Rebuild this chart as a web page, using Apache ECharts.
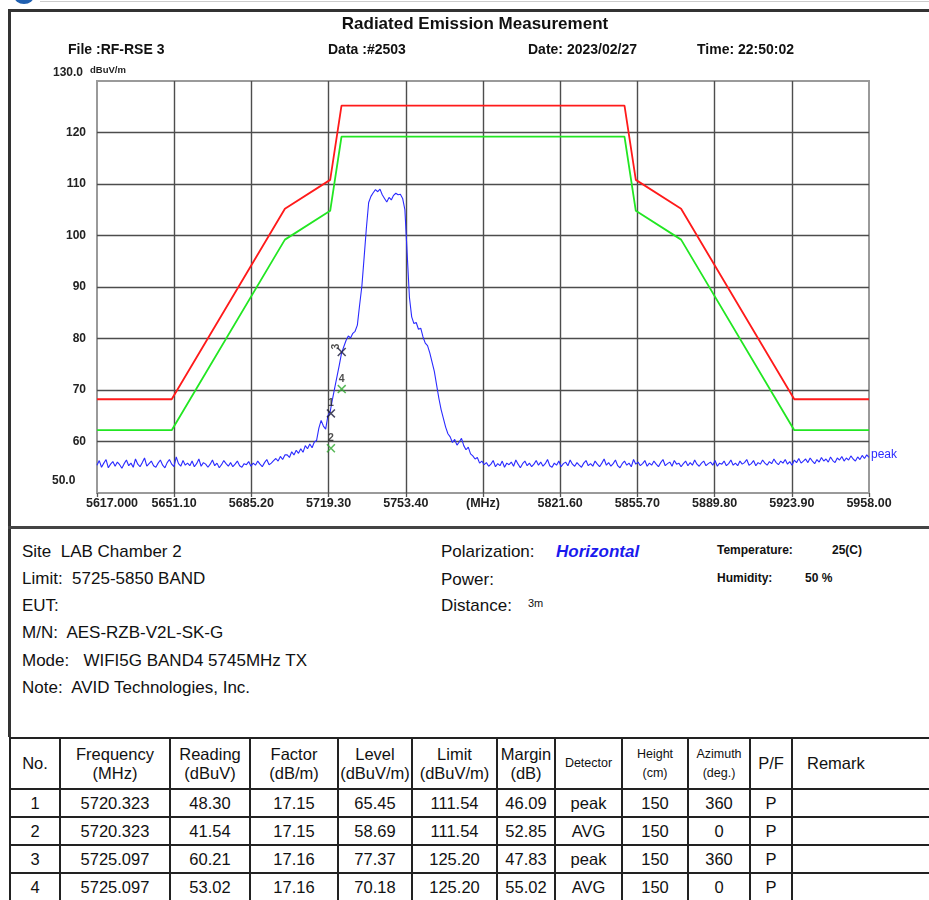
<!DOCTYPE html>
<html>
<head>
<meta charset="utf-8">
<script src="https://cdn.jsdelivr.net/npm/echarts@6/dist/echarts.min.js"></script>
<style>
  html,body{margin:0;padding:0;background:#fff;width:929px;height:900px;overflow:hidden;}
  body{position:relative;font-family:"Liberation Sans",Arial,sans-serif;color:#111;}
  .abs{position:absolute;white-space:pre;}
  .hdr{font-family:"Liberation Sans Narrow","Arial Narrow","Liberation Sans",sans-serif;font-weight:bold;font-size:14px;line-height:16px;}
  .info{font-size:17px;line-height:20px;}
  .small{font-family:"Liberation Sans Narrow","Arial Narrow","Liberation Sans",sans-serif;font-size:12px;line-height:14px;font-weight:bold;}
  #tbl{position:absolute;left:9px;top:737px;width:990px;border-collapse:collapse;table-layout:fixed;font-size:16.5px;}
  #tbl td{border:2px solid #222;text-align:center;padding:0;height:26px;line-height:18px;}
  #tbl tr.h td{height:49px;line-height:19px;}
  #tbl td.s{font-size:12.5px;line-height:16px;}
</style>
</head>
<body>
<div class="abs" style="left:14px;top:-12px;width:20px;height:16px;border-radius:50%;background:#1f5fb0;"></div>
<div class="abs" style="left:40px;top:1px;width:889px;height:1px;background:#ccc;"></div>
<div class="abs" style="left:8px;top:9px;width:921px;height:3px;background:#333;"></div>
<div class="abs" style="left:8px;top:9px;width:3px;height:728px;background:#333;"></div>
<div class="abs" style="left:8px;top:526px;width:921px;height:3px;background:#444;"></div>

<div id="chart" style="position:absolute;left:0;top:0;width:929px;height:520px;"></div>

<div class="abs" style="left:0;width:950px;top:13px;text-align:center;font-weight:bold;font-size:17px;line-height:22px;">Radiated Emission Measurement</div>
<div class="abs hdr" style="left:68px;top:41px;">File :RF-RSE 3</div>
<div class="abs hdr" style="left:328px;top:41px;">Data :#2503</div>
<div class="abs hdr" style="left:528px;top:41px;">Date: 2023/02/27</div>
<div class="abs hdr" style="left:697px;top:41px;">Time: 22:50:02</div>

<div class="abs info" style="left:22px;top:542px;">Site  LAB Chamber 2</div>
<div class="abs info" style="left:22px;top:569px;">Limit:  5725-5850 BAND</div>
<div class="abs info" style="left:22px;top:596px;">EUT:</div>
<div class="abs info" style="left:22px;top:623px;">M/N:  AES-RZB-V2L-SK-G</div>
<div class="abs info" style="left:22px;top:651px;">Mode:   WIFI5G BAND4 5745MHz TX</div>
<div class="abs info" style="left:22px;top:678px;">Note:  AVID Technologies, Inc.</div>
<div class="abs info" style="left:441px;top:542px;">Polarization:</div>
<div class="abs info" style="left:556px;top:542px;color:#1a1aee;font-weight:bold;font-style:italic;">Horizontal</div>
<div class="abs info" style="left:441px;top:570px;">Power:</div>
<div class="abs info" style="left:441px;top:596px;">Distance:</div>
<div class="abs" style="left:528px;top:597px;font-size:11px;line-height:12px;">3m</div>
<div class="abs small" style="left:717px;top:543px;">Temperature:</div>
<div class="abs small" style="left:832px;top:543px;">25(C)</div>
<div class="abs small" style="left:717px;top:571px;">Humidity:</div>
<div class="abs small" style="left:805px;top:571px;">50 %</div>

<table id="tbl"></table>

<script>
// ---------- data ----------
const freqMin = 5617.0;
const freqMax = 5958.0;
const levelMin = 50;
const levelMax = 130;
const levelStep = 10;
const xTickCount = 10;

// limit lines (MHz, dBuV/m)
const limitFreq = [5617, 5650, 5700, 5720, 5725, 5850, 5855, 5875, 5925, 5958];
const peakLimit = [68.2, 68.2, 105.2, 110.8, 125.2, 125.2, 110.8, 105.2, 68.2, 68.2];
const avgLimit  = [62.2, 62.2, 99.2, 104.8, 119.2, 119.2, 104.8, 99.2, 62.2, 62.2];

// measured trace, one reading per MHz starting at 5617 MHz
const traceStart = 5617;
const traceStepMHz = 1;
const traceLevel = [
  55.4,56.3,55.0,55.8,56.5,54.9,55.6,56.1,55.2,56.0,
  55.5,54.8,55.7,56.4,55.3,55.8,55.0,56.6,55.6,55.1,
  55.9,56.8,55.2,55.7,56.2,55.3,55.0,55.8,56.4,55.4,
  54.9,55.9,56.5,55.6,55.1,57.0,55.7,55.2,56.3,55.4,
  55.8,55.3,56.2,55.1,55.7,56.6,55.2,55.9,55.6,55.0,
  55.6,56.4,55.3,55.8,54.9,55.5,56.3,55.7,55.2,55.9,
  55.1,55.6,56.2,55.3,55.0,55.7,55.5,56.1,55.2,55.8,
  55.4,56.2,55.6,55.1,55.9,56.5,55.5,55.8,56.3,56.7,
  56.2,57.1,56.5,57.4,
  57.4,56.9,58.0,57.4,58.3,57.7,58.6,57.9,59.2,58.6,
  59.5,58.8,59.9,60.2,62.6,64.1,63.0,62.4,65.0,65.8,
  68.2,70.4,72.6,74.8,77.1,78.4,79.6,80.5,80.1,81.0,
  81.4,82.6,86.5,90.2,95.8,101.5,106.4,107.6,108.3,108.9,
  108.5,109.0,107.9,107.2,106.5,107.4,106.9,107.8,108.2,107.9,
  108.0,107.2,105.0,96.5,88.0,84.2,82.9,83.1,81.8,82.0,
  80.3,79.1,78.6,77.2,75.4,73.6,71.0,68.4,66.2,64.5,
  62.8,61.5,60.9,59.8,60.4,59.3,59.9,60.6,59.2,58.4,
  58.9,57.6,57.2,56.6,56.9,55.8,56.2,55.5,
  55.9,55.2,55.6,56.3,55.1,55.7,55.3,56.2,55.0,55.8,
  55.5,56.0,55.2,56.4,55.6,54.9,55.7,56.2,55.3,55.8,
  55.1,55.6,56.3,55.4,56.0,55.2,55.7,56.5,55.3,55.0,
  55.8,55.4,56.2,55.1,55.7,56.0,55.3,56.4,55.6,55.2,
  55.9,55.4,55.0,55.8,56.3,55.3,55.7,55.2,56.2,55.6,
  55.1,55.8,56.6,55.4,55.9,55.2,55.7,56.4,55.3,54.9,
  55.7,56.2,55.4,55.8,55.1,56.5,55.6,56.0,55.3,55.7,
  56.3,55.2,55.8,55.4,56.2,55.6,55.1,55.9,56.5,55.3,
  55.7,56.0,55.2,56.3,55.6,55.8,55.1,55.7,56.2,55.3,
  55.9,55.4,56.4,55.6,55.2,55.8,56.2,55.3,55.7,56.0,
  55.4,56.3,55.2,55.8,55.6,56.2,55.3,55.7,56.4,55.4,
  55.8,55.3,56.2,55.6,55.9,56.5,55.4,55.7,56.3,55.3,
  55.9,55.6,56.4,55.8,55.4,56.1,55.7,56.6,55.9,55.5,
  56.2,55.8,56.5,55.6,56.1,55.4,56.4,55.9,56.7,55.8,
  56.2,56.6,55.9,56.8,56.2,55.7,56.5,56.0,56.9,56.2,
  56.6,56.0,57.0,56.3,55.9,56.8,56.4,57.1,56.2,56.8,
  56.4,57.2,56.6,56.2,57.0,56.5,57.3,56.7,57.4,56.9
];

// marked points / table rows
const markerNo       = [1, 2, 3, 4];
const markerFreq     = [5720.323, 5720.323, 5725.097, 5725.097];
const markerReading  = ['48.30', '41.54', '60.21', '53.02'];
const markerFactor   = ['17.15', '17.15', '17.16', '17.16'];
const markerLevel    = [65.45, 58.69, 77.37, 70.18];
const markerLimit    = ['111.54', '111.54', '125.20', '125.20'];
const markerMargin   = ['46.09', '52.85', '47.83', '55.02'];
const markerDetector = ['peak', 'AVG', 'peak', 'AVG'];
const markerHeight   = ['150', '150', '150', '150'];
const markerAzimuth  = ['360', '0', '360', '0'];
const markerPF       = ['P', 'P', 'P', 'P'];

// ---------- chart ----------
const SCALE = 10; // x axis in tenths of MHz from freqMin
const toX = f => Math.round((f - freqMin) * SCALE * 1000) / 1000;
const xMax = toX(freqMax);
const xInterval = xMax / xTickCount;

const peakData = limitFreq.map((f, i) => [toX(f), peakLimit[i]]);
const avgData = limitFreq.map((f, i) => [toX(f), avgLimit[i]]);
const traceData = traceLevel.map((v, i) => [toX(traceStart + i * traceStepMHz), v]);
const markerData = markerNo.map((n, i) => ({
  value: [toX(markerFreq[i]), markerLevel[i]],
  itemStyle: { color: markerDetector[i] === 'AVG' ? '#2ea82e' : '#1a1a3a' },
  label: {
    show: true, formatter: String(n), position: 'top', distance: n === 3 ? 1 : 0,
    rotate: n === 3 ? 90 : 0, fontSize: 10.5, fontWeight: 'bold', color: '#222',
    fontFamily: 'Liberation Sans'
  }
}));

const narrow = '"Liberation Sans Narrow","Arial Narrow","Liberation Sans",sans-serif';
const chart = echarts.init(document.getElementById('chart'), null, { renderer: 'canvas' });
chart.setOption({
  animation: false,
  backgroundColor: 'transparent',
  grid: { left: 97, right: 60, top: 81, bottom: 27, show: true, borderColor: '#9a9a9a', borderWidth: 2 },
  xAxis: {
    type: 'value', min: 0, max: xMax, interval: xInterval,
    axisLine: { show: false },
    axisTick: { show: true, length: 4, lineStyle: { color: '#555', width: 1.3 } },
    splitLine: { show: true, showMinLine: false, showMaxLine: false, lineStyle: { color: '#4d4d4d', width: 1.4 } },
    axisLabel: {
      margin: 4, fontSize: 12.5, fontWeight: 'bold', color: '#222', fontFamily: narrow,
      formatter: v => {
        if (Math.abs(v) < 1e-6) return '{a|' + freqMin.toFixed(3) + '}';
        if (Math.abs(v - xMax / 2) < 1e-6) return '(MHz)';
        return (freqMin + v / SCALE).toFixed(2);
      },
      rich: { a: { fontSize: 12.5, fontWeight: 'bold', color: '#222', fontFamily: narrow, padding: [0, 0, 0, 30] } }
    }
  },
  yAxis: {
    type: 'value', min: levelMin, max: levelMax, interval: levelStep,
    axisLine: { show: false }, axisTick: { show: false },
    splitLine: { show: true, showMinLine: false, showMaxLine: false, lineStyle: { color: '#4d4d4d', width: 1.4 } },
    axisLabel: {
      margin: 11, fontSize: 12, fontWeight: 'bold', color: '#222', fontFamily: narrow,
      formatter: v => (v === levelMin || v === levelMax) ? '' : String(v)
    }
  },
  graphic: [
    { type: 'text', left: 53, top: 67, style: { text: levelMax.toFixed(1), font: 'bold 12px ' + narrow, fill: '#222' } },
    { type: 'text', left: 90, top: 65, style: { text: 'dBuV/m', font: 'bold 9.5px ' + narrow, fill: '#222' } },
    { type: 'text', left: 52, top: 475, style: { text: levelMin.toFixed(1), font: 'bold 12px ' + narrow, fill: '#222' } }
  ],
  series: [
    { name: 'Peak limit', type: 'line', data: peakData, showSymbol: false, silent: true, z: 3,
      lineStyle: { color: '#ff1a1a', width: 1.8 } },
    { name: 'AVG limit', type: 'line', data: avgData, showSymbol: false, silent: true, z: 3,
      lineStyle: { color: '#22e622', width: 1.8 } },
    { name: 'peak', type: 'line', data: traceData, showSymbol: false, silent: true, z: 4,
      lineStyle: { color: '#2b2bff', width: 1.1 },
      endLabel: { show: true, formatter: 'peak', color: '#2b2bff', fontSize: 12, distance: 2, fontFamily: 'Liberation Sans', offset: [0, -3] } },
    { name: 'markers', type: 'scatter', data: markerData, z: 6, symbolSize: 9,
      symbol: 'path://M0,1.2L1.2,0L5,3.8L8.8,0L10,1.2L6.2,5L10,8.8L8.8,10L5,6.2L1.2,10L0,8.8L3.8,5Z' }
  ]
});

// ---------- table ----------
const colWidths = [50, 110, 80, 88, 74, 85, 58, 67, 66, 62, 42, 208];
const headers = [
  ['No.', ''], ['Frequency<br>(MHz)', ''], ['Reading<br>(dBuV)', ''], ['Factor<br>(dB/m)', ''],
  ['Level<br>(dBuV/m)', ''], ['Limit<br>(dBuV/m)', ''], ['Margin<br>(dB)', ''], ['Detector', 's'],
  ['Height<br>(cm)', 's'], ['Azimuth<br>(deg.)', 's'], ['P/F', ''], ['Remark', 'r']
];
let html = '<colgroup>' + colWidths.map(w => '<col style="width:' + w + 'px">').join('') + '</colgroup>';
html += '<tr class="h">' + headers.map(h => {
  const cls = h[1] === 's' ? ' class="s"' : '';
  const st = h[1] === 'r' ? ' style="text-align:left;padding-left:14px"' : '';
  return '<td' + cls + st + '>' + h[0] + '</td>';
}).join('') + '</tr>';
markerNo.forEach((n, i) => {
  const cells = [String(n), markerFreq[i].toFixed(3), markerReading[i], markerFactor[i],
    markerLevel[i].toFixed(2), markerLimit[i], markerMargin[i], markerDetector[i],
    markerHeight[i], markerAzimuth[i], markerPF[i], ''];
  html += '<tr>' + cells.map(c => '<td>' + c + '</td>').join('') + '</tr>';
});
document.getElementById('tbl').innerHTML = html;
</script>
</body>
</html>
